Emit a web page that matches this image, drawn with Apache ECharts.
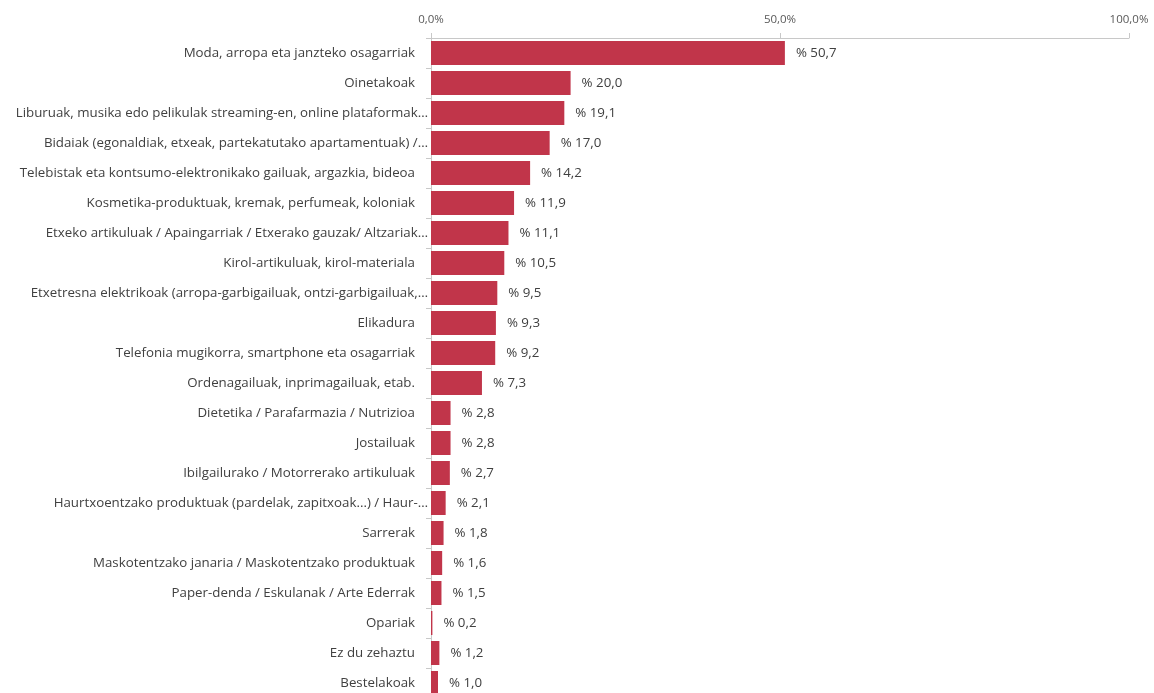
<!DOCTYPE html>
<html>
<head>
<meta charset="utf-8">
<script src="https://cdn.jsdelivr.net/npm/echarts@6/dist/echarts.min.js"></script>
<style>
html,body{margin:0;padding:0;background:#fff;overflow:hidden;}
#chart{width:1154px;height:702px;}
</style>
</head>
<body>
<div id="chart"></div>
<script>
const categories = [
  "Moda, arropa eta janzteko osagarriak",
  "Oinetakoak",
  "Liburuak, musika edo pelikulak streaming-en, online plataformak…",
  "Bidaiak (egonaldiak, etxeak, partekatutako apartamentuak) /…",
  "Telebistak eta kontsumo-elektronikako gailuak, argazkia, bideoa",
  "Kosmetika-produktuak, kremak, perfumeak, koloniak",
  "Etxeko artikuluak / Apaingarriak / Etxerako gauzak/ Altzariak…",
  "Kirol-artikuluak, kirol-materiala",
  "Etxetresna elektrikoak (arropa-garbigailuak, ontzi-garbigailuak,…",
  "Elikadura",
  "Telefonia mugikorra, smartphone eta osagarriak",
  "Ordenagailuak, inprimagailuak, etab.",
  "Dietetika / Parafarmazia / Nutrizioa",
  "Jostailuak",
  "Ibilgailurako / Motorrerako artikuluak",
  "Haurtxoentzako produktuak (pardelak, zapitxoak...) / Haur-…",
  "Sarrerak",
  "Maskotentzako janaria / Maskotentzako produktuak",
  "Paper-denda / Eskulanak / Arte Ederrak",
  "Opariak",
  "Ez du zehaztu",
  "Bestelakoak"
];
const values = [50.7, 20.0, 19.1, 17.0, 14.2, 11.9, 11.1, 10.5, 9.5, 9.3, 9.2, 7.3, 2.8, 2.8, 2.7, 2.1, 1.8, 1.6, 1.5, 0.2, 1.2, 1.0];
const xTicks = [0, 50, 100];

const chart = echarts.init(document.getElementById('chart'));
const font = '"Open Sans", sans-serif';
chart.setOption({
  animation: false,
  grid: {left: 431, right: 25, top: 38, bottom: 4, containLabel: false, outerBoundsMode: 'none'},
  xAxis: {
    type: 'value', position: 'top', min: 0, max: 100, interval: 50,
    axisLine: {show: true, lineStyle: {color: '#c8c8c8'}},
    axisTick: {show: true, length: 5, inside: false, lineStyle: {color: '#c8c8c8'}},
    splitLine: {show: false},
    axisLabel: {
      color: '#595959', fontSize: 11.5, fontFamily: font, margin: 12,
      formatter: v => xTicks.includes(v) ? v.toFixed(1).replace('.', ',') + '%' : ''
    }
  },
  yAxis: {
    type: 'category', data: categories, inverse: true,
    axisLine: {show: true, lineStyle: {color: '#c8c8c8'}},
    axisTick: {show: true, length: 5, lineStyle: {color: '#c8c8c8'}},
    axisLabel: {
      color: '#404040', fontSize: 13.3, fontFamily: font, margin: 3, interval: 0,
      formatter: v => v.endsWith('…') ? '{t|' + v + '}' : '{p|' + v + '}',
      rich: {
        t: {color: '#404040', fontSize: 13.3, fontFamily: font},
        p: {color: '#404040', fontSize: 13.3, fontFamily: font, padding: [0, 13, 0, 0]}
      }
    }
  },
  series: [{
    type: 'bar', data: values, barCategoryGap: '20%',
    itemStyle: {color: '#c1354a'},
    label: {
      show: true, position: 'right', distance: 11,
      color: '#404040', fontSize: 13.3, fontFamily: font,
      formatter: p => '% ' + p.value.toFixed(1).replace('.', ',')
    }
  }]
});
</script>
</body>
</html>
